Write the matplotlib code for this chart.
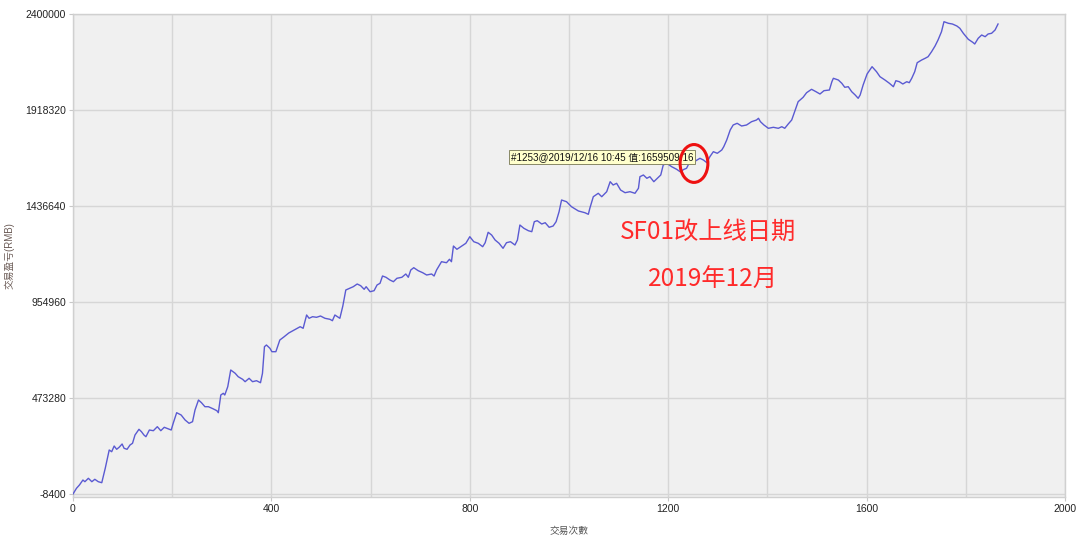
import matplotlib
matplotlib.use("Agg")
import matplotlib.pyplot as plt
from matplotlib.patches import Ellipse
from matplotlib.ticker import MultipleLocator, FixedLocator

trades = [0, 7, 13, 20, 24, 31, 38, 44, 51, 58, 65, 73, 78, 83, 88, 93, 99, 103, 109, 115,
          120, 125, 133, 138, 143, 147, 154, 162, 170, 177, 184, 191, 198, 202, 209, 218, 226, 234, 241, 246,
          253, 259, 266, 273, 282, 290, 293, 298, 303, 306, 312, 318, 327, 333, 342, 347, 355, 362, 370, 378,
          382, 386, 390, 397, 401, 409, 417, 425, 435, 446, 458, 464, 471, 476, 483, 491, 499, 508, 518, 523,
          528, 535, 538, 544, 550, 558, 565, 573, 580, 587, 591, 599, 607, 613, 619, 624, 631, 639, 646, 653,
          663, 671, 676, 681, 687, 696, 705, 713, 723, 728, 733, 743, 753, 759, 763, 767, 774, 784, 792, 800,
          808, 817, 826, 831, 837, 844, 851, 859, 867, 874, 882, 891, 896, 901, 909, 918, 925, 930, 936, 945,
          952, 960, 968, 974, 980, 985, 995, 1005, 1019, 1032, 1039, 1042, 1049, 1059, 1066, 1076, 1083, 1089, 1096, 1104,
          1113, 1123, 1133, 1140, 1143, 1150, 1157, 1163, 1171, 1178, 1185, 1190, 1197, 1207, 1217, 1224, 1232, 1237, 1242, 1253,
          1264, 1271, 1278, 1284, 1291, 1299, 1308, 1312, 1318, 1325, 1331, 1339, 1348, 1358, 1368, 1378, 1382, 1386, 1393, 1402,
          1412, 1422, 1429, 1435, 1442, 1449, 1456, 1462, 1472, 1479, 1489, 1498, 1506, 1514, 1525, 1530, 1533, 1543, 1550, 1556,
          1563, 1570, 1577, 1583, 1587, 1593, 1601, 1611, 1620, 1627, 1637, 1646, 1654, 1659, 1666, 1673, 1681, 1686, 1691, 1697,
          1702, 1711, 1718, 1724, 1731, 1738, 1744, 1751, 1756, 1765, 1773, 1782, 1788, 1795, 1805, 1814, 1818, 1825, 1832, 1839,
          1845, 1852, 1859, 1865]

pnl = [-8400, 20200, 36800, 61800, 53300, 70400, 53300, 65400, 53300, 48300, 120600, 212400, 203800, 232400, 215900, 225900, 242500, 220900, 215900, 237500,
       246000, 287600, 316200, 304200, 287600, 279100, 312700, 309200, 329300, 309200, 326300, 319200, 312700, 346300, 399500, 388000, 362900, 346300, 354400, 413100,
       463200, 449700, 429600, 429600, 419600, 409600, 399500, 488300, 496900, 488300, 530000, 613800, 597200, 580200, 567100, 555100, 572100, 555100, 560100, 550000,
       597200, 730700, 739200, 722700, 705600, 705600, 764300, 779300, 799400, 814500, 831000, 823000, 889700, 873200, 881200, 878200, 884700, 873200, 868200, 861100,
       889700, 878200, 873200, 934900, 1015200, 1023700, 1031700, 1045300, 1036700, 1018700, 1031700, 1006600, 1011700, 1040300, 1048800, 1085400, 1078900, 1065300, 1056800, 1073900,
       1078900, 1095500, 1078900, 1115500, 1127100, 1112000, 1102000, 1090400, 1095500, 1085400, 1115500, 1157200, 1152100, 1169200, 1157200, 1235900, 1219400, 1235900, 1249500, 1282600,
       1257500, 1249500, 1232400, 1252500, 1304700, 1291100, 1266000, 1249500, 1224400, 1252500, 1257500, 1241000, 1266000, 1341300, 1324800, 1312700, 1307700, 1357900, 1362900, 1346300,
       1352800, 1329800, 1336300, 1357900, 1408000, 1466700, 1458200, 1433100, 1411600, 1403000, 1395000, 1425100, 1483300, 1500400, 1483300, 1508400, 1558600, 1542000, 1550500, 1516900,
       1503400, 1508400, 1500400, 1525500, 1583700, 1592200, 1575600, 1583700, 1558600, 1575600, 1592200, 1642400, 1650900, 1633900, 1620800, 1608700, 1620800, 1625800, 1650900, 1659509,
       1676000, 1667400, 1653900, 1684000, 1709100, 1701100, 1717600, 1734200, 1767800, 1818000, 1843100, 1851600, 1838000, 1843100, 1859600, 1868100, 1876700, 1859600, 1843100, 1826500,
       1831500, 1826500, 1834500, 1826500, 1848100, 1868100, 1918320, 1960000, 1982000, 2005100, 2022200, 2010100, 1998600, 2015200, 2018700, 2060300, 2077400, 2068800, 2052300, 2032200,
       2035200, 2010100, 1993600, 1977000, 1993600, 2043800, 2099000, 2135600, 2110500, 2085400, 2068800, 2052300, 2035200, 2065300, 2060300, 2048800, 2060300, 2055300, 2077400, 2110500,
       2155600, 2169200, 2177700, 2185800, 2210800, 2239400, 2269500, 2311200, 2361400, 2353300, 2349800, 2339800, 2328300, 2303200, 2273100, 2258000, 2249500, 2278100, 2294600, 2286100,
       2299700, 2303200, 2319700, 2349800]

y_ticks = [-8400, 473280, 954960, 1436640, 1918320, 2400000]
x_ticks = [0, 400, 800, 1200, 1600, 2000]

tip_text = "#1253@2019/12/16 10:45 值:1659509.16"
tip_trade, tip_value = 1253, 1659509
note1 = "SF01改上线日期"
note2 = "2019年12月"
x_label = "交易次數"
y_label = "交易盈亏(RMB)"

plt.rcParams['font.family'] = ['Liberation Sans', 'Noto Sans CJK SC', 'DejaVu Sans']

fig = plt.figure(figsize=(10.8, 5.44), dpi=100)
fig.patch.set_facecolor('white')
ax = fig.add_axes([73/1080, 1-497/544, (1065-73)/1080, (497-14)/544])
ax.set_facecolor('#f0f0f0')

ax.plot(trades, pnl, color='#5a5ad2', lw=1.0, zorder=3)

ax.set_xlim(0, 2000)
ax.set_ylim(-8400 - 3*5017.5, 2400000)
ax.xaxis.set_major_locator(FixedLocator(x_ticks))
ax.xaxis.set_minor_locator(MultipleLocator(200))
ax.yaxis.set_major_locator(FixedLocator(y_ticks))
ax.set_yticklabels([str(v) for v in y_ticks])
ax.set_xticklabels([str(v) for v in x_ticks])
ax.grid(True, which='both', color='#d6d6d6', lw=1.0, zorder=1)
ax.set_axisbelow(True)
for s in ax.spines.values():
    s.set_color('#d0d0d0')
    s.set_linewidth(1.0)
ax.tick_params(axis='both', which='major', labelsize=7.5, colors='#222222', length=3, width=0.8)
ax.tick_params(axis='both', which='major', color='#c8c8c8')
ax.tick_params(axis='x', which='minor', length=0)
ax.tick_params(axis='x', pad=2)
ax.tick_params(axis='y', pad=2)

ax.set_xlabel(x_label, fontsize=7, color='#555555', labelpad=9)
ax.set_ylabel(y_label, fontsize=7, color='#6a5a55', labelpad=8)

# tooltip
ax.text(883, 1682500, tip_text, fontsize=7.1, color='#111111', ha='left', va='center', zorder=5,
        bbox=dict(boxstyle='square,pad=0.2', fc='#ffffcc', ec='#888866', lw=0.7))

# red circle
ax.add_patch(Ellipse((1252, 1650000), 56, 190000, fill=False, ec='#ee1111', lw=2.2, zorder=6))

ax.text(1280, 1307000, note1, fontsize=17.5, color='#ff2a2a', ha='center', va='center',
        family=['Noto Sans CJK SC', 'DejaVu Sans'], zorder=6)
ax.text(1290, 1066000, note2, fontsize=17.5, color='#ff2a2a', ha='center', va='center',
        family=['Noto Sans CJK SC', 'DejaVu Sans'], zorder=6)

fig.savefig('out.png', dpi=100)
